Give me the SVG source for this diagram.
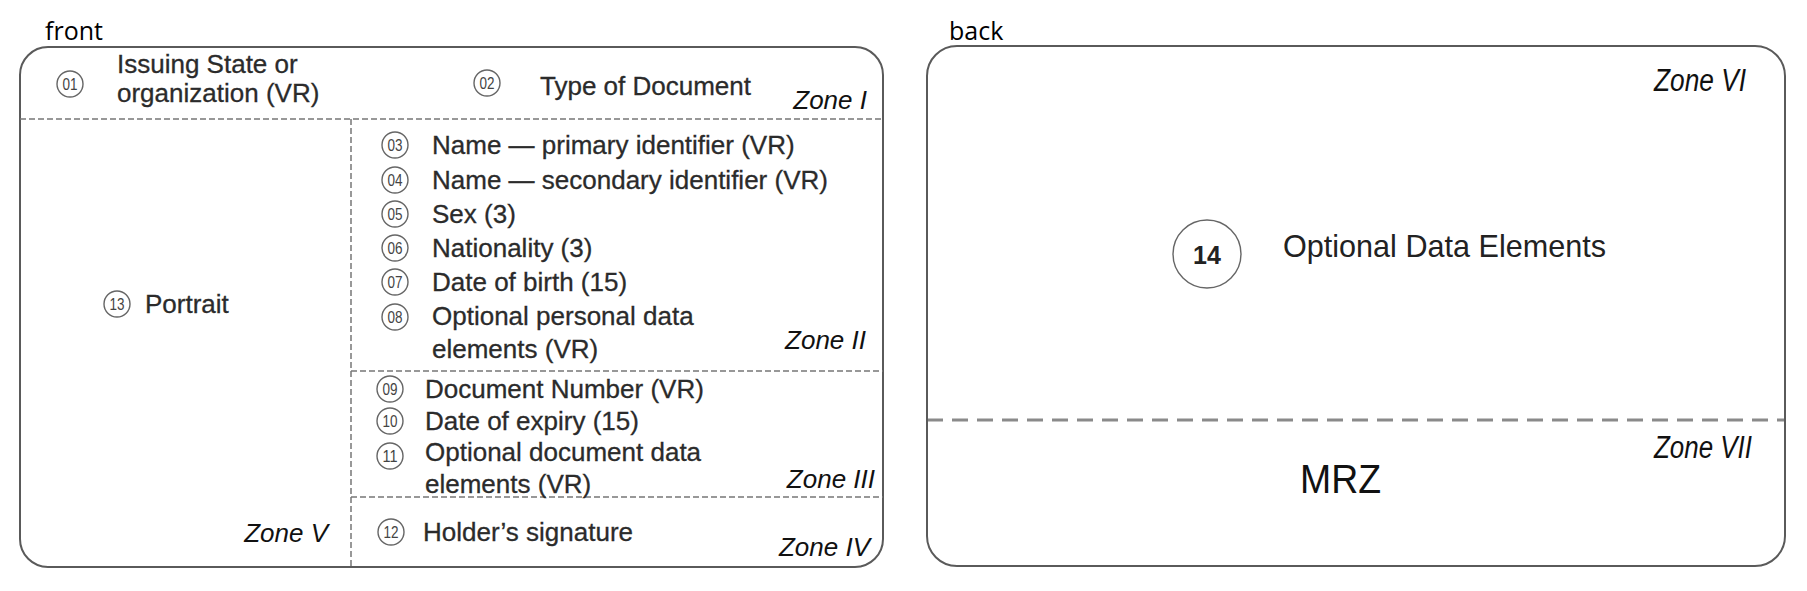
<svg xmlns="http://www.w3.org/2000/svg" width="1807" height="591" viewBox="0 0 1807 591">
<style>
.card{fill:none;stroke:#5a5a5a;stroke-width:2}
.dash{stroke:#777;stroke-width:1.5;stroke-dasharray:6 3;fill:none}
.dash2{stroke:#8a8a8a;stroke-width:3;stroke-dasharray:16 9;fill:none}
.num{fill:none;stroke:#666;stroke-width:1.4}
.nt{font-family:"Liberation Sans",Arial,sans-serif;font-size:16px;fill:#444;text-anchor:middle}
.t{font-family:"Liberation Sans",Arial,sans-serif;font-size:26px;fill:#2b2b2b;stroke:#2b2b2b;stroke-width:0.3}
.z{font-family:"Liberation Sans",Arial,sans-serif;font-size:26px;font-style:italic;fill:#111;text-anchor:end}
.zb{font-family:"Liberation Sans",Arial,sans-serif;font-size:31px;font-style:italic;fill:#111;text-anchor:end}
.cap{font-family:"Open Sans","Noto Sans",sans-serif;font-size:25px;fill:#000}
</style>
<rect width="1807" height="591" fill="#fff"/>
<text class="cap" x="45" y="40">front</text>
<text class="cap" x="949" y="40">back</text>

<g id="front-card">
<rect class="card" x="20" y="47" width="863" height="520" rx="28"/>
</g>
<g id="connectors">
<line class="dash" x1="20" y1="119" x2="883" y2="119"/>
<line class="dash" x1="351" y1="119" x2="351" y2="567"/>
<line class="dash" x1="351" y1="371" x2="883" y2="371"/>
<line class="dash" x1="351" y1="497" x2="883" y2="497"/>
<line class="dash2" x1="927" y1="420" x2="1785" y2="420"/>
</g>

<g id="zone1">
<circle class="num" cx="70" cy="84" r="13"/><text class="nt" x="70" y="90" textLength="15" lengthAdjust="spacingAndGlyphs">01</text>
<text class="t" x="117" y="73">Issuing State or</text>
<text class="t" x="117" y="102">organization (VR)</text>
<circle class="num" cx="487" cy="83" r="13"/><text class="nt" x="487" y="89" textLength="15" lengthAdjust="spacingAndGlyphs">02</text>
<text class="t" x="540" y="95">Type of Document</text>
<text class="z" x="867" y="109">Zone I</text>
</g>

<g id="zone2">
<circle class="num" cx="395" cy="145" r="13"/><text class="nt" x="395" y="151" textLength="15" lengthAdjust="spacingAndGlyphs">03</text>
<text class="t" x="432" y="154">Name — primary identifier (VR)</text>
<circle class="num" cx="395" cy="180" r="13"/><text class="nt" x="395" y="186" textLength="15" lengthAdjust="spacingAndGlyphs">04</text>
<text class="t" x="432" y="189">Name — secondary identifier (VR)</text>
<circle class="num" cx="395" cy="214" r="13"/><text class="nt" x="395" y="220" textLength="15" lengthAdjust="spacingAndGlyphs">05</text>
<text class="t" x="432" y="223">Sex (3)</text>
<circle class="num" cx="395" cy="248" r="13"/><text class="nt" x="395" y="254" textLength="15" lengthAdjust="spacingAndGlyphs">06</text>
<text class="t" x="432" y="257">Nationality (3)</text>
<circle class="num" cx="395" cy="282" r="13"/><text class="nt" x="395" y="288" textLength="15" lengthAdjust="spacingAndGlyphs">07</text>
<text class="t" x="432" y="291">Date of birth (15)</text>
<circle class="num" cx="395" cy="317" r="13"/><text class="nt" x="395" y="323" textLength="15" lengthAdjust="spacingAndGlyphs">08</text>
<text class="t" x="432" y="325">Optional personal data</text>
<text class="t" x="432" y="358">elements (VR)</text>
<text class="z" x="866" y="349">Zone II</text>
</g>

<g id="zone3">
<circle class="num" cx="390" cy="389" r="13"/><text class="nt" x="390" y="395" textLength="15" lengthAdjust="spacingAndGlyphs">09</text>
<text class="t" x="425" y="398">Document Number (VR)</text>
<circle class="num" cx="390" cy="421" r="13"/><text class="nt" x="390" y="427" textLength="15" lengthAdjust="spacingAndGlyphs">10</text>
<text class="t" x="425" y="430">Date of expiry (15)</text>
<circle class="num" cx="390" cy="456" r="13"/><text class="nt" x="390" y="462" textLength="15" lengthAdjust="spacingAndGlyphs">11</text>
<text class="t" x="425" y="461">Optional document data</text>
<text class="t" x="425" y="493">elements (VR)</text>
<text class="z" x="875" y="488">Zone III</text>
</g>

<g id="zone4">
<circle class="num" cx="391" cy="532" r="13"/><text class="nt" x="391" y="538" textLength="15" lengthAdjust="spacingAndGlyphs">12</text>
<text class="t" x="423" y="541">Holder’s signature</text>
<text class="z" x="870" y="556">Zone IV</text>
</g>

<g id="zone5">
<circle class="num" cx="117" cy="304" r="13"/><text class="nt" x="117" y="310" textLength="15" lengthAdjust="spacingAndGlyphs">13</text>
<text class="t" x="145" y="313">Portrait</text>
<text class="z" x="328" y="542">Zone V</text>
</g>

<g id="back-card">
<rect class="card" x="927" y="46" width="858" height="520" rx="30"/>
</g>

<g id="zone6">
<text class="zb" x="1746" y="91" textLength="92" lengthAdjust="spacingAndGlyphs">Zone VI</text>
<circle class="num" cx="1207" cy="254" r="34" stroke="#555" stroke-width="1.6"/>
<text x="1207" y="264" text-anchor="middle" style="font-family:'Liberation Sans',Arial,sans-serif;font-size:25px;font-weight:bold;fill:#222">14</text>
<text x="1283" y="257" textLength="323" lengthAdjust="spacingAndGlyphs" style="font-family:'Liberation Sans',Arial,sans-serif;font-size:32px;fill:#222">Optional Data Elements</text>
</g>

<g id="zone7">
<text class="zb" x="1752" y="458" textLength="98" lengthAdjust="spacingAndGlyphs">Zone VII</text>
<text x="1300" y="493" textLength="81" lengthAdjust="spacingAndGlyphs" style="font-family:'Liberation Sans',Arial,sans-serif;font-size:41px;fill:#111">MRZ</text>
</g>
</svg>
